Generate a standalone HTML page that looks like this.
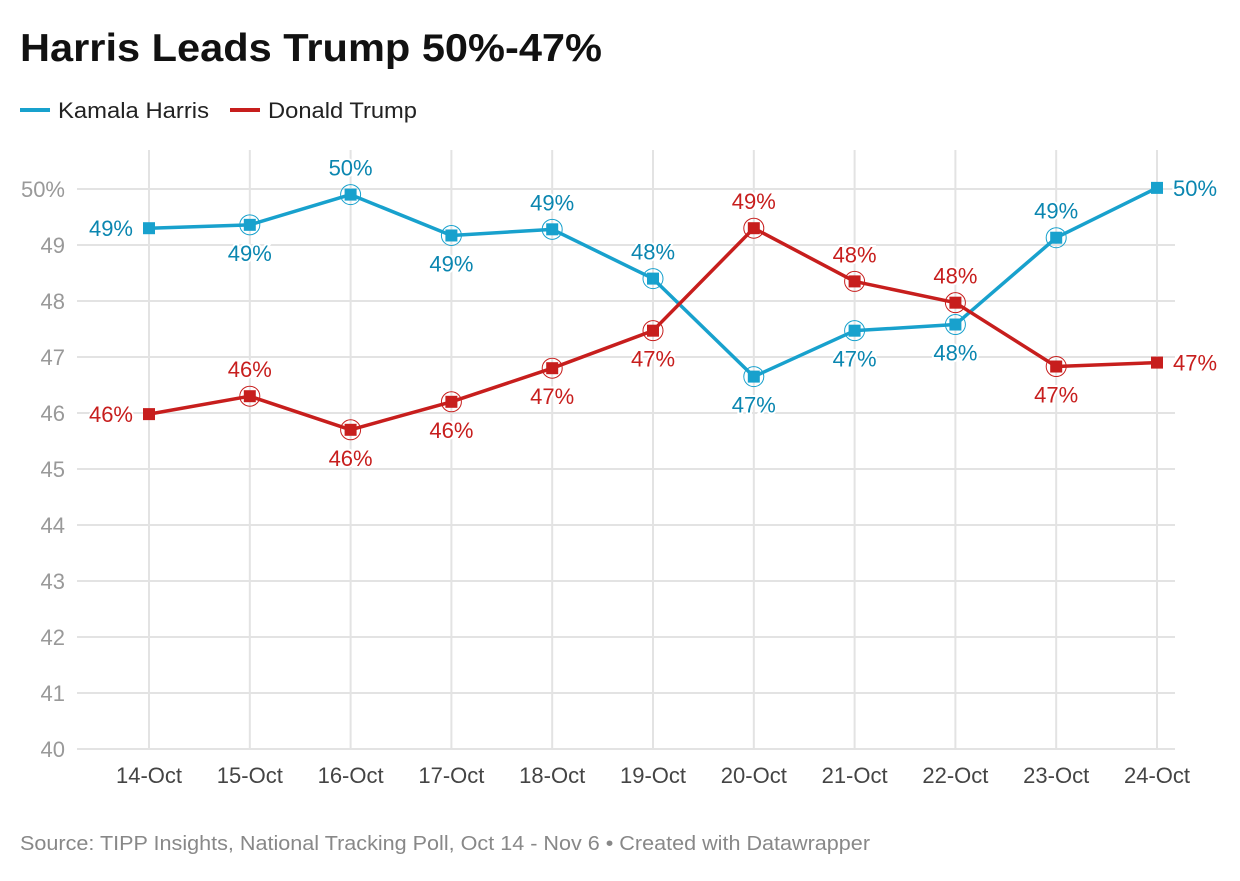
<!DOCTYPE html>
<html><head><meta charset="utf-8"><style>
body{margin:0;background:#fff;font-family:"Liberation Sans",sans-serif;}
</style></head><body>
<svg width="1240" height="876" viewBox="0 0 1240 876">
<text x="20" y="61" font-size="39" font-weight="bold" fill="#111" textLength="582" lengthAdjust="spacingAndGlyphs">Harris Leads Trump 50%-47%</text>
<g>
<g><rect x="20" y="108" width="30" height="4" fill="#18a1cd"/><text x="58" y="118" font-size="22" fill="#222" textLength="151" lengthAdjust="spacingAndGlyphs">Kamala Harris</text></g>
<g><rect x="230" y="108" width="30" height="4" fill="#c71e1d"/><text x="268" y="118" font-size="22" fill="#222" textLength="149" lengthAdjust="spacingAndGlyphs">Donald Trump</text></g>
</g>
<g id="grid"></g><g id="plot"></g>
<text x="20" y="850" font-size="20" fill="#888" textLength="850" lengthAdjust="spacingAndGlyphs">Source: TIPP Insights, National Tracking Poll, Oct 14 - Nov 6 • Created with Datawrapper</text>
</svg>
<script>
const categories=["14-Oct","15-Oct","16-Oct","17-Oct","18-Oct","19-Oct","20-Oct","21-Oct","22-Oct","23-Oct","24-Oct"];
const harris=[49.3,49.36,49.9,49.17,49.28,48.4,46.65,47.47,47.58,49.13,50.02];
const trump=[45.98,46.3,45.7,46.2,46.8,47.47,49.3,48.35,47.97,46.83,46.9];
const harrisLabelSide=["left","below","above","below","above","above","below","below","below","above","right"];
const trumpLabelSide=["left","above","below","below","below","below","above","above","above","below","right"];
const yTicks=[40,41,42,43,44,45,46,47,48,49,50];
const NS="http://www.w3.org/2000/svg";
const x=i=>149+i*100.8, y=v=>749-(v-40)*56;
function mk(tag,attrs,parent){const e=document.createElementNS(NS,tag);for(const k in attrs)e.setAttribute(k,attrs[k]);parent.appendChild(e);return e;}
const grid=document.getElementById('grid'),plot=document.getElementById('plot');
yTicks.forEach(t=>{
 const l=mk('line',{x1:77,x2:1175,y1:y(t),y2:y(t),stroke:'#e3e3e3','stroke-width':2},grid);
 
 
 const tx=mk('text',{x:65,y:y(t)+8,'font-size':22,fill:'#999','text-anchor':'end'},grid);
 tx.textContent=t===50?'50%':t;
 
 
});
categories.forEach((c,i)=>{
 const l=mk('line',{x1:x(i),x2:x(i),y1:150,y2:749,stroke:'#e3e3e3','stroke-width':2},grid);
 
 
 const tx=mk('text',{x:x(i),y:783,'font-size':22,fill:'#444','text-anchor':'middle'},grid);
 tx.textContent=c;
 
 
});
function series(vals,sides,color,lab,name){
 const g=mk('g',{},plot);
 
 
 const p=mk('polyline',{points:vals.map((v,i)=>x(i)+','+y(v)).join(' '),fill:'none',stroke:color,'stroke-width':3.5,'stroke-linejoin':'round'},g);
 
 
 vals.forEach((v,i)=>{
  const cx=x(i),cy=y(v);
  if(i>0&&i<vals.length-1){
   const c=mk('circle',{cx:cx,cy:cy,r:10,fill:'none',stroke:color,'stroke-width':1},g);
   
   
  }
  const r=mk('rect',{x:cx-6,y:cy-6,width:12,height:12,fill:color},g);
  
  
  const s=sides[i];let tx=cx,ty=cy,anc='middle';
  if(s==='left'){tx=cx-16;ty=cy+8;anc='end';}
  else if(s==='right'){tx=cx+16;ty=cy+8;anc='start';}
  else if(s==='above'){ty=cy-19;}
  else {ty=cy+36;}
  const t=mk('text',{x:tx,y:ty,'font-size':22,fill:lab,'text-anchor':anc,stroke:'#fff','stroke-width':4,'paint-order':'stroke'},g);
  t.textContent=Math.round(v)+'%';
  
  
 });
}
series(harris,harrisLabelSide,'#18a1cd','#0a86b0','harris');
series(trump,trumpLabelSide,'#c71e1d','#c71e1d','trump');
</script>
</body></html>
